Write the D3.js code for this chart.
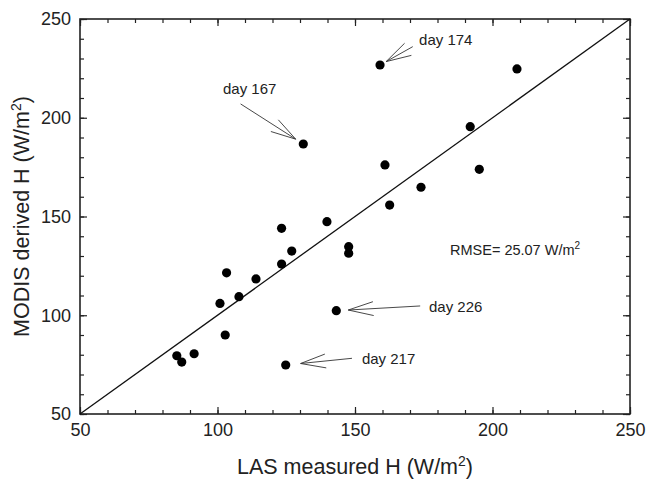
<!DOCTYPE html>
<html>
<head>
<meta charset="utf-8">
<script src="https://cdn.jsdelivr.net/npm/d3@7"></script>
<style>
  body { margin: 0; background: #fff; }
  svg { font-family: "Liberation Sans", Arial, Helvetica, sans-serif; }
  .tick text { fill: #222; }
</style>
</head>
<body>
<svg width="647" height="479"></svg>
<script>
const lasH   = [159.1, 208.9, 191.9, 160.9, 195.2, 174.0, 162.6, 139.8, 131.2, 123.3, 127.0, 123.3,
                103.3, 114.0, 107.8, 100.9, 102.8, 91.5, 85.2, 87.0, 124.8, 143.2, 147.7, 147.7];
const modisH = [226.7, 224.7, 195.5, 176.1, 173.9, 164.8, 155.8, 147.4, 186.7, 144.0, 132.5, 125.9,
                121.5, 118.4, 109.4, 106.0, 90.0, 80.5, 79.5, 76.3, 74.8, 102.3, 134.7, 131.4];

const majorTicks = [50, 100, 150, 200, 250];
const minorTicks = d3.range(50, 251, 10);

// Anotaciones: punto señalado, cola de la flecha y texto (en unidades de datos)
const annLabels = ["day 174", "day 167", "day 226", "day 217"];
const annPoint  = [0, 8, 21, 20];
const annTail   = [[171.0, 236.0], [108.4, 207.0], [173.7, 104.7], [148.9, 78.2]];
const annText   = [[173.3, 236.8], [102.0, 211.9], [176.9, 101.8], [152.5, 75.3]];
const annGap    = [7, 9, 12, 15];

const svg = d3.select("svg");
const mLeft = 80, mRight = 630, mTop = 19, mBottom = 414;

const x = d3.scaleLinear().domain([50, 250]).range([mLeft, mRight]);
const y = d3.scaleLinear().domain([50, 250]).range([mBottom, mTop]);

// Ejes con marcas hacia dentro en los cuatro lados
function addAxis(axisFn, scale, transform, values, size, labels) {
  const a = axisFn(scale).tickValues(values).tickSize(-size).tickPadding(9);
  if (!labels) a.tickFormat("");
  const g = svg.append("g").attr("transform", transform).call(a);
  g.select(".domain").remove();
  g.selectAll("line").attr("stroke", "#222").attr("stroke-width", 1.2);
  g.selectAll("text").attr("font-size", 18);
  return g;
}
addAxis(d3.axisBottom, x, `translate(0,${mBottom})`, minorTicks, 4, false);
addAxis(d3.axisBottom, x, `translate(0,${mBottom})`, majorTicks, 7, true);
addAxis(d3.axisTop, x, `translate(0,${mTop})`, minorTicks, 4, false);
addAxis(d3.axisTop, x, `translate(0,${mTop})`, majorTicks, 7, false);
addAxis(d3.axisLeft, y, `translate(${mLeft},0)`, minorTicks, 4, false);
addAxis(d3.axisLeft, y, `translate(${mLeft},0)`, majorTicks, 7, true);
addAxis(d3.axisRight, y, `translate(${mRight},0)`, minorTicks, 4, false);
addAxis(d3.axisRight, y, `translate(${mRight},0)`, majorTicks, 7, false);

svg.append("rect")
    .attr("x", mLeft).attr("y", mTop)
    .attr("width", mRight - mLeft).attr("height", mBottom - mTop)
    .attr("fill", "none").attr("stroke", "#222").attr("stroke-width", 1.6);

// Línea 1:1
svg.append("line")
    .attr("x1", x(50)).attr("y1", y(50))
    .attr("x2", x(250)).attr("y2", y(250))
    .attr("stroke", "#111").attr("stroke-width", 1.3);

// Puntos
svg.append("g")
  .selectAll("circle")
  .data(lasH)
  .enter().append("circle")
    .attr("cx", d => x(d))
    .attr("cy", (d, i) => y(modisH[i]))
    .attr("r", 4.6)
    .attr("fill", "#000");

// Flechas de anotación
const ann = svg.append("g");
annLabels.forEach((lab, i) => {
  const px = x(lasH[annPoint[i]]), py = y(modisH[annPoint[i]]);
  const tx = x(annTail[i][0]), ty = y(annTail[i][1]);
  const ang = Math.atan2(ty - py, tx - px);
  const hx = px + annGap[i] * Math.cos(ang), hy = py + annGap[i] * Math.sin(ang);
  const len = 26, spread = 0.27;
  const path = d3.path();
  path.moveTo(tx, ty); path.lineTo(hx, hy);
  path.moveTo(hx + len * Math.cos(ang - spread), hy + len * Math.sin(ang - spread));
  path.lineTo(hx, hy);
  path.lineTo(hx + len * Math.cos(ang + spread), hy + len * Math.sin(ang + spread));
  ann.append("path")
      .attr("d", path.toString())
      .attr("fill", "none")
      .attr("stroke", "#333")
      .attr("stroke-width", 0.9);
  ann.append("text")
      .attr("x", x(annText[i][0]))
      .attr("y", y(annText[i][1]))
      .attr("font-size", 15)
      .attr("fill", "#222")
      .text(lab);
});

// Texto RMSE
const rmse = svg.append("text")
    .attr("x", 450).attr("y", 255)
    .attr("font-size", 14.5)
    .attr("fill", "#222")
    .text("RMSE= 25.07 W/m");
rmse.append("tspan").attr("dy", -6).attr("font-size", 10).text("2");

// Títulos de los ejes
const xt = svg.append("text")
    .attr("x", (mLeft + mRight) / 2).attr("y", 474)
    .attr("text-anchor", "middle")
    .attr("font-size", 21.5)
    .attr("fill", "#222")
    .text("LAS measured H (W/m");
xt.append("tspan").attr("dy", -8).attr("font-size", 14).text("2");
xt.append("tspan").attr("dy", 8).text(")");

const yt = svg.append("text")
    .attr("transform", `translate(29,${(mTop + mBottom) / 2}) rotate(-90)`)
    .attr("text-anchor", "middle")
    .attr("font-size", 21.5)
    .attr("fill", "#222")
    .text("MODIS derived H (W/m");
yt.append("tspan").attr("dy", -8).attr("font-size", 14).text("2");
yt.append("tspan").attr("dy", 8).text(")");
</script>
</body>
</html>
